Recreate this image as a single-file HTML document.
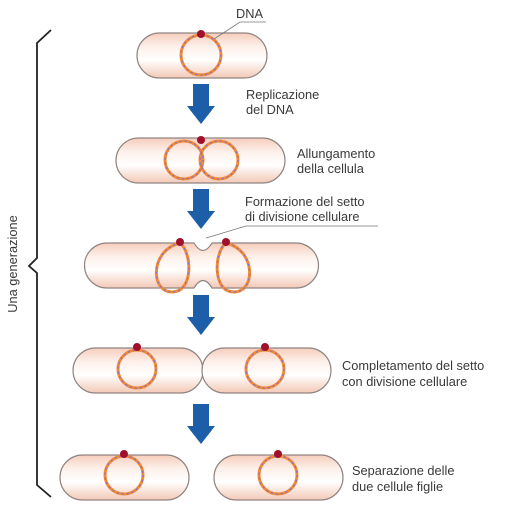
<!DOCTYPE html>
<html><head><meta charset="utf-8"><style>
html,body{margin:0;padding:0;background:#fff}
svg{display:block}
text{font-family:"Liberation Sans",sans-serif;font-size:12.8px;fill:#3a3a3a}
</style></head><body>
<svg width="509" height="516" viewBox="0 0 509 516" xmlns="http://www.w3.org/2000/svg">
<defs>
<linearGradient id="g" x1="0" y1="0" x2="0" y2="1">
<stop offset="0" stop-color="#f6cdbc"/><stop offset="0.3" stop-color="#fdf0ea"/><stop offset="0.6" stop-color="#fff"/><stop offset="1" stop-color="#f3c8b6"/>
</linearGradient>
<g id="arrow"><path d="M-8,0 H8 V22 H14 L0,40 L-14,22 H-8 Z" fill="#1c5ea8"/></g>
</defs>
<g stroke="#8f8582" stroke-width="1.2" fill="url(#g)">
<rect x="137" y="33" width="130" height="45" rx="22.5"/>
<rect x="116" y="138" width="169" height="45" rx="22.5"/>
<path d="M107,243 H194 Q203,258 212,243 H296 A22.5,22.5 0 0 1 296,288 H212 Q203,273 194,288 H107 A22.5,22.5 0 0 1 107,243 Z"/>
<rect x="73" y="348" width="130" height="45" rx="22.5"/>
<rect x="202" y="348" width="129" height="45" rx="22.5"/>
<rect x="60" y="455" width="129" height="45" rx="22.5"/>
<rect x="214" y="455" width="129" height="45" rx="22.5"/>
</g>
<g fill="none">
<g stroke="#f08a3a" stroke-width="3">
<circle cx="201" cy="55" r="20"/>
<circle cx="184" cy="160" r="19"/><circle cx="219" cy="160" r="19"/>
<path d="M180,243 C150,250 150,292 172,292 C194,292 192,252 180,243"/>
<path d="M226,243 C214,252 212,292 234,292 C256,292 256,250 226,243"/>
<circle cx="137" cy="369" r="19"/><circle cx="265" cy="369" r="19"/>
<circle cx="124" cy="475" r="19"/><circle cx="278" cy="475" r="19"/>
</g>
<g stroke="#8a6fc0" stroke-width="1.3" stroke-dasharray="2 3">
<circle cx="201" cy="55" r="20"/>
<circle cx="184" cy="160" r="19"/><circle cx="219" cy="160" r="19"/>
<path d="M180,243 C150,250 150,292 172,292 C194,292 192,252 180,243"/>
<path d="M226,243 C214,252 212,292 234,292 C256,292 256,250 226,243"/>
<circle cx="137" cy="369" r="19"/><circle cx="265" cy="369" r="19"/>
<circle cx="124" cy="475" r="19"/><circle cx="278" cy="475" r="19"/>
</g>
</g>
<g fill="#a0102a">
<circle cx="201" cy="34" r="4"/><circle cx="201" cy="140" r="4"/>
<circle cx="180" cy="242" r="4"/><circle cx="226" cy="242" r="4"/>
<circle cx="137" cy="347" r="4"/><circle cx="265" cy="347" r="4"/>
<circle cx="124" cy="454" r="4"/><circle cx="278" cy="454" r="4"/>
</g>
<use href="#arrow" x="201" y="84"/>
<use href="#arrow" x="201" y="189"/>
<use href="#arrow" x="201" y="295"/>
<use href="#arrow" x="201" y="404"/>
<g stroke="#777" stroke-width="0.8" fill="none">
<path d="M214,39 L240,22 H266"/>
<path d="M206,238 L246,226 H378"/>
</g>
<path d="M51,30 L37,43 V258 L29,266 L37,273 V485 L51,497" fill="none" stroke="#222" stroke-width="1.8"/>
<text x="236" y="18">DNA</text>
<text x="246" y="99">Replicazione</text><text x="246" y="114">del DNA</text>
<text x="297" y="158">Allungamento</text><text x="297" y="173">della cellula</text>
<text x="245" y="206">Formazione del setto</text><text x="245" y="221">di divisione cellulare</text>
<text x="342" y="370">Completamento del setto</text><text x="342" y="386">con divisione cellulare</text>
<text x="352" y="475">Separazione delle</text><text x="352" y="491">due cellule figlie</text>
<text transform="translate(17,264) rotate(-90)" text-anchor="middle">Una generazione</text>
</svg>
</body></html>
